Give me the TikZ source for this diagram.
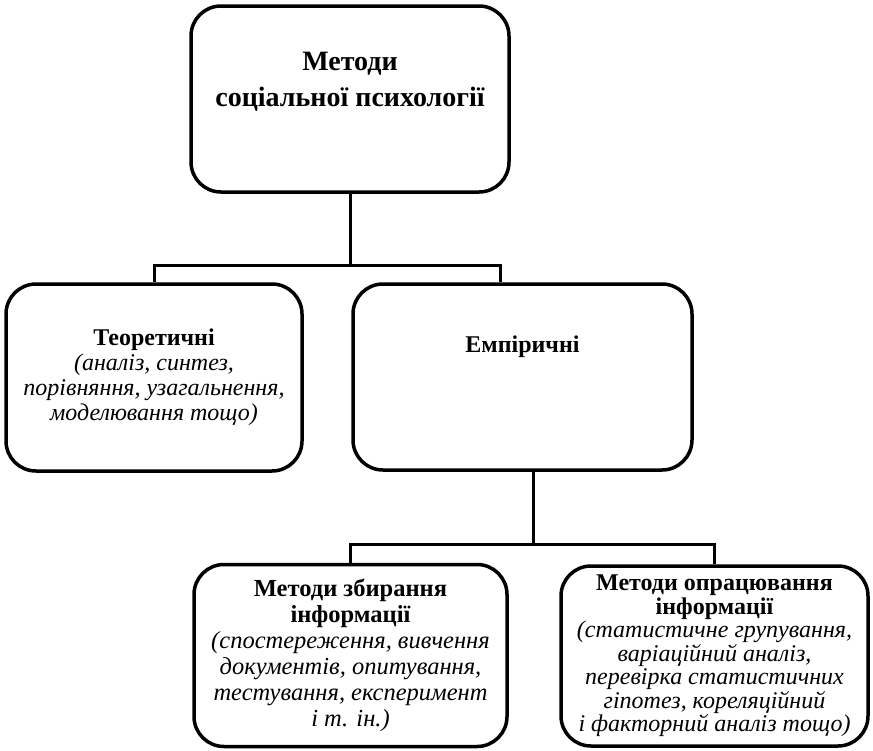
\documentclass[tikz,border=0pt]{standalone}
\usepackage{fontspec}
\setmainfont{Liberation Serif}
\usetikzlibrary{positioning}
\tikzstyle{box} = [rectangle,rounded corners=30pt,draw=black,line width=3.5pt,align=center,inner sep=0pt,font=\fontsize{24}{25}\selectfont]
\tikzstyle{title} = [align=center,inner sep=0pt,font=\fontsize{28}{36}\selectfont\bfseries]
\tikzstyle{conn} = [line width=3pt]

\begin{document}
\begin{tikzpicture}[x=1pt,y=-1pt]
  \useasboundingbox (0,0) rectangle (873,750);

  \node [box,minimum width=318pt,minimum height=186pt] (root) at (350,99) {};
  \node [title] (roottext) at ([yshift=17pt]root.center) {Методи\\соціальної психології};

  \node [box,minimum width=296pt,minimum height=187pt] (theor) at (154,377.5)
    {\textbf{Теоретичні}\\\textit{(аналіз, синтез,}\\\textit{порівняння, узагальнення,}\\\textit{моделювання тощо)}};
  \node [box,minimum width=339pt,minimum height=186pt] (emp) at (522.5,377) {};
  \node [box,draw=none] (emptext) at ([yshift=30pt]emp.center) {\textbf{Емпіричні}};

  \node [box,font=\fontsize{24.5}{26}\selectfont,minimum width=313pt,minimum height=182pt] (collect) at (350.5,655.5)
    {\textbf{Методи збирання}\\\textbf{інформації}\\\textit{(спостереження, вивчення}\\\textit{документів, опитування,}\\\textit{тестування, експеримент}\\\textit{і т. ін.)}};
  \node [box,font=\fontsize{24}{23.5}\selectfont,minimum width=307pt,minimum height=180pt] (process) at (714.5,656)
    {\textbf{Методи опрацювання}\\\textbf{інформації}\\\textit{(статистичне групування,}\\\textit{варіаційний аналіз,}\\\textit{перевірка статистичних}\\\textit{гіпотез, кореляційний}\\\textit{і факторний аналіз тощо)}};

  \coordinate (j1) at (350,265);
  \coordinate (j2) at (533,544);
  \draw [conn] (root.south) -- (j1);
  \draw [conn] (theor.north) |- (j1) -| ([xshift=-22.5pt]emp.north);
  \draw [conn] ([xshift=10.5pt]emp.south) -- (j2);
  \draw [conn] (collect.north) |- (j2) -| (process.north);

\end{tikzpicture}
\end{document}
